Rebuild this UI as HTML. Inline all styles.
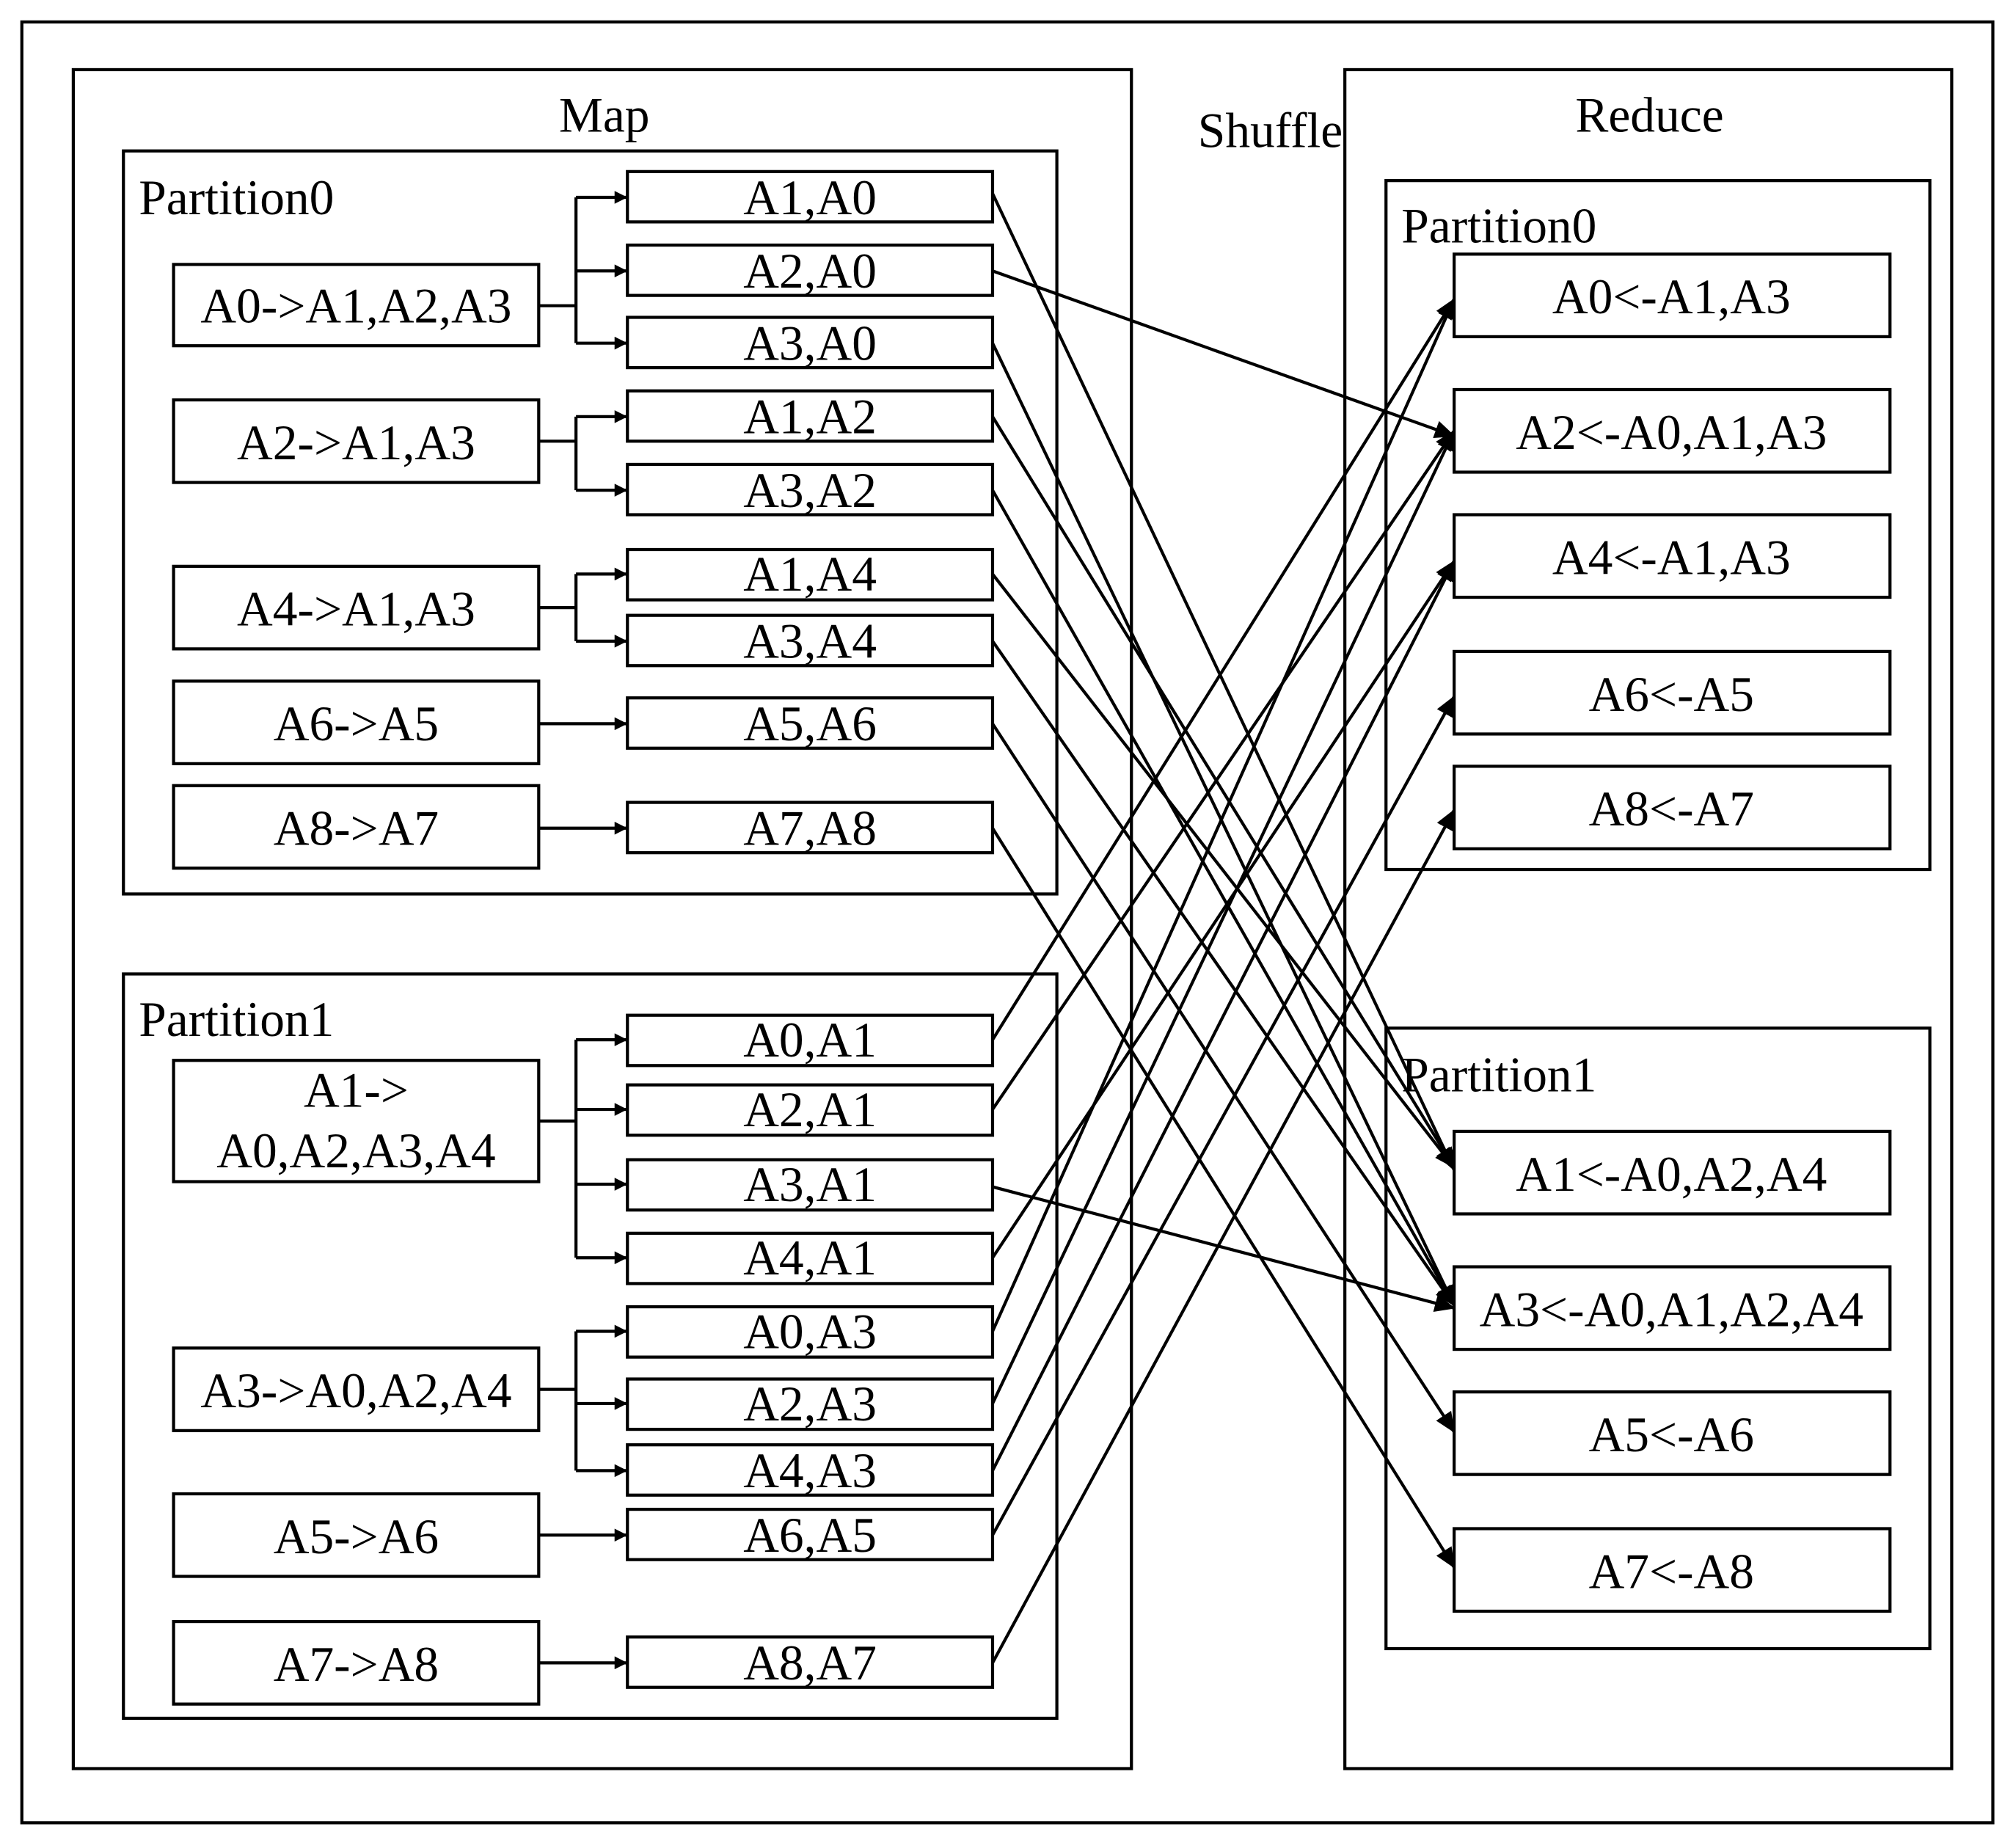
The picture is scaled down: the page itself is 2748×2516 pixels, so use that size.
<!DOCTYPE html>
<html><head><meta charset="utf-8"><style>html,body{margin:0;padding:0;background:#fff}svg{display:block}</style></head>
<body>
<svg width="2748" height="2516" viewBox="0 0 1568 1431" preserveAspectRatio="none" xmlns="http://www.w3.org/2000/svg">
<defs><marker id="a" markerWidth="10" markerHeight="10" refX="9" refY="5" orient="auto" markerUnits="userSpaceOnUse"><path d="M0,0 L10,5 L0,10 z" fill="#000"/></marker>
<marker id="b" markerWidth="16" markerHeight="14" refX="15" refY="7" orient="auto" markerUnits="userSpaceOnUse"><path d="M0,0 L16,7 L0,14 z" fill="#000"/></marker></defs>
<g fill="none" stroke="#000" stroke-width="2.4">
<rect x="17" y="17" width="1533" height="1396"/>
<rect x="57" y="54" width="823" height="1317"/>
<rect x="1046" y="54" width="472" height="1317"/>
<rect x="96" y="117" width="726" height="576"/>
<rect x="96" y="755" width="726" height="577"/>
<rect x="1078" y="140" width="423" height="534"/>
<rect x="1078" y="797" width="423" height="481"/>
<rect x="135" y="205" width="284" height="63"/>
<rect x="135" y="310" width="284" height="64"/>
<rect x="135" y="439" width="284" height="64"/>
<rect x="135" y="528" width="284" height="64"/>
<rect x="135" y="609" width="284" height="64"/>
<rect x="135" y="822" width="284" height="94"/>
<rect x="135" y="1045" width="284" height="64"/>
<rect x="135" y="1158" width="284" height="64"/>
<rect x="135" y="1257" width="284" height="64"/>
<rect x="488" y="133" width="284" height="39"/>
<rect x="488" y="190" width="284" height="39"/>
<rect x="488" y="246" width="284" height="39"/>
<rect x="488" y="303" width="284" height="39"/>
<rect x="488" y="360" width="284" height="39"/>
<rect x="488" y="426" width="284" height="39"/>
<rect x="488" y="477" width="284" height="39"/>
<rect x="488" y="541" width="284" height="39"/>
<rect x="488" y="622" width="284" height="39"/>
<rect x="488" y="787" width="284" height="39"/>
<rect x="488" y="841" width="284" height="39"/>
<rect x="488" y="899" width="284" height="39"/>
<rect x="488" y="956" width="284" height="39"/>
<rect x="488" y="1013" width="284" height="39"/>
<rect x="488" y="1069" width="284" height="39"/>
<rect x="488" y="1120" width="284" height="39"/>
<rect x="488" y="1170" width="284" height="39"/>
<rect x="488" y="1269" width="284" height="39"/>
<rect x="1131" y="197" width="339" height="64"/>
<rect x="1131" y="302" width="339" height="64"/>
<rect x="1131" y="399" width="339" height="64"/>
<rect x="1131" y="505" width="339" height="64"/>
<rect x="1131" y="594" width="339" height="64"/>
<rect x="1131" y="877" width="339" height="64"/>
<rect x="1131" y="982" width="339" height="64"/>
<rect x="1131" y="1079" width="339" height="64"/>
<rect x="1131" y="1185" width="339" height="64"/>
<path d="M419,237 H448 M448,153 V266 M419,342 H448 M448,323 V380 M419,471 H448 M448,445 V497 M419,869 H448 M448,806 V975 M419,1077 H448 M448,1032 V1140"/>
</g>
<g stroke="#000" stroke-width="2.4" marker-end="url(#a)">
<line x1="448" y1="153" x2="487" y2="153"/><line x1="448" y1="210" x2="487" y2="210"/><line x1="448" y1="266" x2="487" y2="266"/>
<line x1="448" y1="323" x2="487" y2="323"/><line x1="448" y1="380" x2="487" y2="380"/>
<line x1="448" y1="445" x2="487" y2="445"/><line x1="448" y1="497" x2="487" y2="497"/>
<line x1="419" y1="561" x2="487" y2="561"/><line x1="419" y1="642" x2="487" y2="642"/>
<line x1="448" y1="806" x2="487" y2="806"/><line x1="448" y1="860" x2="487" y2="860"/><line x1="448" y1="918" x2="487" y2="918"/><line x1="448" y1="975" x2="487" y2="975"/>
<line x1="448" y1="1032" x2="487" y2="1032"/><line x1="448" y1="1088" x2="487" y2="1088"/><line x1="448" y1="1140" x2="487" y2="1140"/>
<line x1="419" y1="1190" x2="487" y2="1190"/><line x1="419" y1="1289" x2="487" y2="1289"/>
</g>
<g stroke="#000" stroke-width="2.4" marker-end="url(#b)">
<line x1="772" y1="150" x2="1131" y2="907"/>
<line x1="772" y1="210" x2="1131" y2="338"/>
<line x1="772" y1="266" x2="1131" y2="1012"/>
<line x1="772" y1="323" x2="1131" y2="905"/>
<line x1="772" y1="380" x2="1131" y2="1012"/>
<line x1="772" y1="445" x2="1131" y2="905"/>
<line x1="772" y1="497" x2="1131" y2="1012"/>
<line x1="772" y1="561" x2="1131" y2="1110"/>
<line x1="772" y1="642" x2="1131" y2="1215"/>
<line x1="772" y1="806" x2="1131" y2="232"/>
<line x1="772" y1="860" x2="1131" y2="334"/>
<line x1="772" y1="920" x2="1131" y2="1014"/>
<line x1="772" y1="975" x2="1131" y2="435"/>
<line x1="772" y1="1032" x2="1131" y2="232"/>
<line x1="772" y1="1088" x2="1131" y2="334"/>
<line x1="772" y1="1140" x2="1131" y2="435"/>
<line x1="772" y1="1190" x2="1131" y2="540"/>
<line x1="772" y1="1289" x2="1131" y2="628"/>
</g>
<g font-family="Liberation Serif, serif" font-size="38.5" fill="#000" text-anchor="middle">
<text x="470" y="102">Map</text>
<text x="988" y="114">Shuffle</text>
<text x="1283" y="102">Reduce</text>
<g text-anchor="start"><text x="108" y="166">Partition0</text><text x="108" y="803">Partition1</text><text x="1090" y="188">Partition0</text><text x="1090" y="846">Partition1</text></g>
<text x="277" y="250">A0-&gt;A1,A2,A3</text>
<text x="277" y="356">A2-&gt;A1,A3</text>
<text x="277" y="485">A4-&gt;A1,A3</text>
<text x="277" y="574">A6-&gt;A5</text>
<text x="277" y="655">A8-&gt;A7</text>
<text x="277" y="858">A1-&gt;</text>
<text x="277" y="905">A0,A2,A3,A4</text>
<text x="277" y="1091">A3-&gt;A0,A2,A4</text>
<text x="277" y="1204">A5-&gt;A6</text>
<text x="277" y="1303">A7-&gt;A8</text>
<text x="630" y="166">A1,A0</text><text x="630" y="223">A2,A0</text><text x="630" y="279">A3,A0</text>
<text x="630" y="336">A1,A2</text><text x="630" y="393">A3,A2</text><text x="630" y="458">A1,A4</text>
<text x="630" y="510">A3,A4</text><text x="630" y="574">A5,A6</text><text x="630" y="655">A7,A8</text>
<text x="630" y="819">A0,A1</text><text x="630" y="873">A2,A1</text><text x="630" y="931">A3,A1</text>
<text x="630" y="988">A4,A1</text><text x="630" y="1045">A0,A3</text><text x="630" y="1101">A2,A3</text>
<text x="630" y="1153">A4,A3</text><text x="630" y="1203">A6,A5</text><text x="630" y="1302">A8,A7</text>
<text x="1300" y="243">A0&lt;-A1,A3</text>
<text x="1300" y="348">A2&lt;-A0,A1,A3</text>
<text x="1300" y="445">A4&lt;-A1,A3</text>
<text x="1300" y="551">A6&lt;-A5</text>
<text x="1300" y="640">A8&lt;-A7</text>
<text x="1300" y="923">A1&lt;-A0,A2,A4</text>
<text x="1300" y="1028">A3&lt;-A0,A1,A2,A4</text>
<text x="1300" y="1125">A5&lt;-A6</text>
<text x="1300" y="1231">A7&lt;-A8</text>
</g>
</svg>
</body></html>
